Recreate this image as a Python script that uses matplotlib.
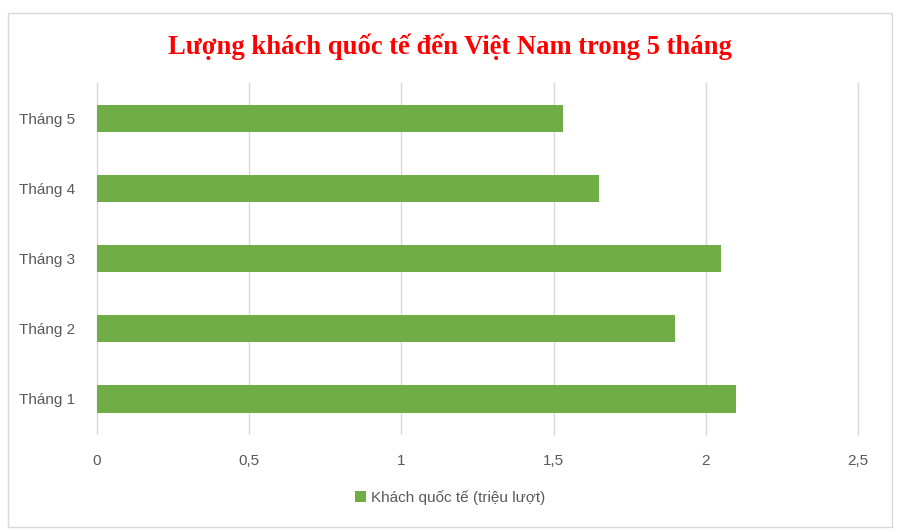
import matplotlib.pyplot as plt
from matplotlib.patches import Rectangle

# data
months = ['Tháng 1', 'Tháng 2', 'Tháng 3', 'Tháng 4', 'Tháng 5']
visitors = [2.10, 1.90, 2.05, 1.65, 1.53]
xticks = [0, 0.5, 1, 1.5, 2, 2.5]
xtick_labels = ['0', '0,5', '1', '1,5', '2', '2,5']

green = '#70AD47'
grey_text = '#595959'

fig = plt.figure(figsize=(9, 5.3), dpi=100)
ax = fig.add_axes([0.1078, 0.181, 0.8455, 0.662])

ax.barh(months, visitors, height=0.39, color=green,
        label='Khách quốc tế (triệu lượt)', zorder=3)

ax.set_xlim(0, 2.5)
ax.set_ylim(-0.5, 4.5)
ax.set_xticks(xticks)
ax.set_xticklabels(xtick_labels)
ax.grid(axis='x', color='#d9d9d9', linewidth=1, zorder=0)
for gl in ax.get_xgridlines():
    gl.set_clip_on(False)
for s in ax.spines.values():
    s.set_visible(False)
ax.tick_params(length=0, labelsize=11, labelcolor=grey_text, pad=14)
ax.tick_params(axis='y', pad=16)
for t in ax.get_xticklabels() + ax.get_yticklabels():
    t.set_family('Liberation Sans')

fig.text(0.5, 0.912, 'Lượng khách quốc tế đến Việt Nam trong 5 tháng',
         ha='center', va='center', color='red', fontsize=19.2,
         fontweight='bold', family='Liberation Serif')

leg = fig.legend(loc='center', bbox_to_anchor=(0.5, 0.062), frameon=False,
                 handlelength=0.7, handleheight=0.7, handletextpad=0.3,
                 prop={'family': 'Liberation Sans', 'size': 11})
for t in leg.get_texts():
    t.set_color(grey_text)

# outer chart border
fig.patches.append(Rectangle((0.009, 0.006), 0.982, 0.970, transform=fig.transFigure,
                             fill=False, edgecolor='#d9d9d9', linewidth=1))

fig.savefig('out.png', dpi=100)
